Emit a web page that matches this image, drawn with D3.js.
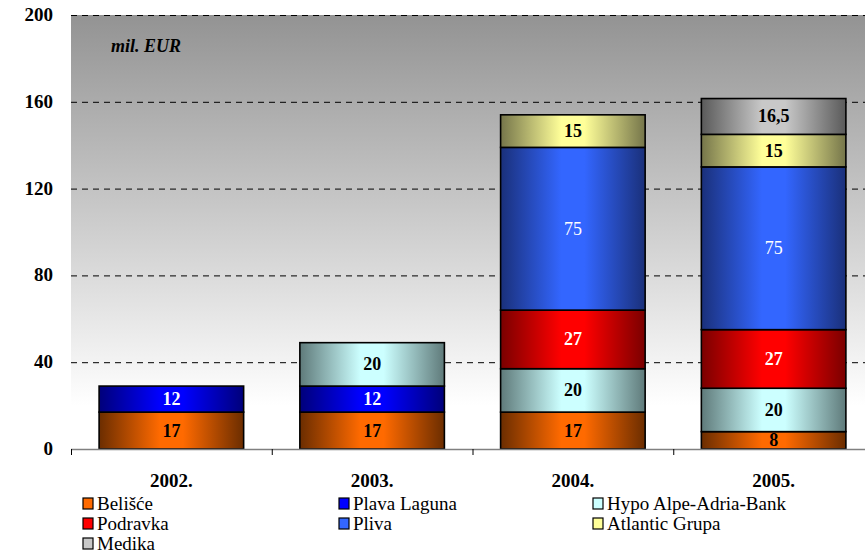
<!DOCTYPE html>
<html><head><meta charset="utf-8"><script src="https://cdn.jsdelivr.net/npm/d3@7"></script></head>
<body style="margin:0">
<script>
let years = ['2002.', '2003.', '2004.', '2005.']
let companies = ['Belišće', 'Plava Laguna', 'Hypo Alpe-Adria-Bank', 'Podravka', 'Pliva', 'Atlantic Grupa', 'Medika']
// values per company, one per year (0 = no deal that year)
let belisce = [17, 17, 17, 8]
let plavaLaguna = [12, 12, 0, 0]
let hypo = [0, 20, 20, 20]
let podravka = [0, 0, 27, 27]
let pliva = [0, 0, 75, 75]
let atlantic = [0, 0, 15, 15]
let medika = [0, 0, 0, 16.5]
let yTicks = [0, 40, 80, 120, 160, 200]

let series_values = [belisce, plavaLaguna, hypo, podravka, pliva, atlantic, medika]

// light centre colour, dark edge colour, label colour, label weight
let looks = [
  { light: '#ff6a00', dark: '#6b2d00', text: '#000', weight: 'bold' },
  { light: '#0000ff', dark: '#00007a', text: '#fff', weight: 'bold' },
  { light: '#ccffff', dark: '#5f7a7a', text: '#000', weight: 'bold' },
  { light: '#ff0000', dark: '#7a0000', text: '#fff', weight: 'bold' },
  { light: '#3366ff', dark: '#1a307a', text: '#fff', weight: 'normal' },
  { light: '#ffff99', dark: '#75754a', text: '#000', weight: 'bold' },
  { light: '#c8c8c8', dark: '#5a5a5a', text: '#000', weight: 'bold' }
]

let fam = "Tinos, FreeSerif, 'Liberation Serif', serif"
let plot = { left: 71, right: 874, top: 15, bottom: 449 }

let table = years.map((yr, i) => {
  let row = { year: yr }
  companies.forEach((c, k) => { row[c] = series_values[k][i] })
  return row
})

let svg = d3.select('body').append('svg')
  .attr('width', 865)
  .attr('height', 555)

let defs = svg.append('defs')

let bg = defs.append('linearGradient')
  .attr('id', 'bg')
  .attr('x1', 0).attr('y1', 0).attr('x2', 0).attr('y2', 1)
bg.append('stop').attr('offset', '0%').attr('stop-color', '#939393')
bg.append('stop').attr('offset', '90%').attr('stop-color', '#ffffff')
bg.append('stop').attr('offset', '100%').attr('stop-color', '#ffffff')

looks.forEach((l, k) => {
  let g = defs.append('linearGradient')
    .attr('id', 'grad' + k)
    .attr('x1', 0).attr('y1', 0).attr('x2', 1).attr('y2', 0)
  g.append('stop').attr('offset', '0%').attr('stop-color', l.dark)
  g.append('stop').attr('offset', '42%').attr('stop-color', l.light)
  g.append('stop').attr('offset', '58%').attr('stop-color', l.light)
  g.append('stop').attr('offset', '100%').attr('stop-color', l.dark)
})

let xScale = d3.scaleBand()
  .domain(years)
  .range([plot.left, plot.right])
  .paddingInner(0.28)
  .paddingOuter(0.14)

let yScale = d3.scaleLinear()
  .domain([0, 200])
  .range([plot.bottom, plot.top])

// plot background
svg.append('rect')
  .attr('x', plot.left)
  .attr('y', plot.top)
  .attr('width', plot.right - plot.left)
  .attr('height', plot.bottom - plot.top)
  .attr('fill', 'url(#bg)')

// dashed grid
svg.append('g')
  .selectAll('line')
  .data(yTicks.filter(t => t > 0))
  .enter()
  .append('line')
  .attr('x1', plot.left)
  .attr('x2', plot.right)
  .attr('y1', d => yScale(d) + 0.5)
  .attr('y2', d => yScale(d) + 0.5)
  .attr('stroke', '#000')
  .attr('stroke-width', 1)
  .attr('stroke-dasharray', '6,5')

let stacked = d3.stack().keys(companies)(table)
let segs = []
stacked.forEach((layer, k) => layer.forEach(p => {
  if (p[1] - p[0] > 0) segs.push({ p: p, k: k })
}))

svg.append('g')
  .selectAll('rect')
  .data(segs)
  .enter()
  .append('rect')
  .attr('x', o => xScale(o.p.data.year))
  .attr('y', o => yScale(o.p[1]))
  .attr('width', xScale.bandwidth())
  .attr('height', o => yScale(o.p[0]) - yScale(o.p[1]))
  .attr('fill', o => 'url(#grad' + o.k + ')')
  .attr('stroke', '#000')
  .attr('stroke-width', 1.6)

// x axis line and ticks
svg.append('line')
  .attr('x1', plot.left).attr('x2', plot.right)
  .attr('y1', plot.bottom + 0.5).attr('y2', plot.bottom + 0.5)
  .attr('stroke', '#808080')
  .attr('stroke-width', 1.5)
svg.append('g')
  .selectAll('line')
  .data(d3.range(years.length + 1))
  .enter()
  .append('line')
  .attr('x1', i => plot.left + i * xScale.step() + 0.5)
  .attr('x2', i => plot.left + i * xScale.step() + 0.5)
  .attr('y1', plot.bottom)
  .attr('y2', plot.bottom + 6)
  .attr('stroke', '#000')

// legend swatches
let legendCols = [83, 339, 593]
svg.append('g')
  .selectAll('rect')
  .data(companies)
  .enter()
  .append('rect')
  .attr('x', (d, i) => legendCols[i % 3])
  .attr('y', (d, i) => 498 + Math.floor(i / 3) * 20)
  .attr('width', 10)
  .attr('height', 11)
  .attr('fill', (d, i) => looks[i].light)
  .attr('stroke', '#000')
  .attr('stroke-width', 1.2)

// all texts
let fmt = v => String(v).replace('.', ',')
let labels = []
yTicks.forEach(t => labels.push({ t: String(t), x: 53, y: yScale(t) + 6, a: 'end', w: 'bold', c: '#000', s: 19 }))
labels.push({ t: 'mil. EUR', x: 111, y: 52, a: 'start', w: 'bold', c: '#000', s: 18, i: true })
segs.forEach(o => labels.push({
  t: fmt(o.p[1] - o.p[0]),
  x: xScale(o.p.data.year) + xScale.bandwidth() / 2,
  y: (yScale(o.p[0]) + yScale(o.p[1])) / 2 + 6,
  a: 'middle', w: looks[o.k].weight, c: looks[o.k].text, s: 18
}))
years.forEach(yr => labels.push({ t: yr, x: xScale(yr) + xScale.bandwidth() / 2, y: 487, a: 'middle', w: 'bold', c: '#000', s: 19 }))
companies.forEach((c, i) => labels.push({ t: c, x: legendCols[i % 3] + 14, y: 510 + Math.floor(i / 3) * 20, a: 'start', w: 'normal', c: '#000', s: 19 }))

let tx = svg.append('g')
  .selectAll('text')
  .data(labels)
  .enter()
  .append('text')
  .attr('x', d => d.x)
  .attr('y', d => d.y)
  .attr('text-anchor', d => d.a)
  .attr('font-family', fam)
  .attr('font-weight', d => d.w)
  .attr('fill', d => d.c)
  .text(d => d.t)
tx.style('font-size', d => d.s + 'px')
tx.filter(d => d.i).style('font-style', 'italic')
</script></body></html>
